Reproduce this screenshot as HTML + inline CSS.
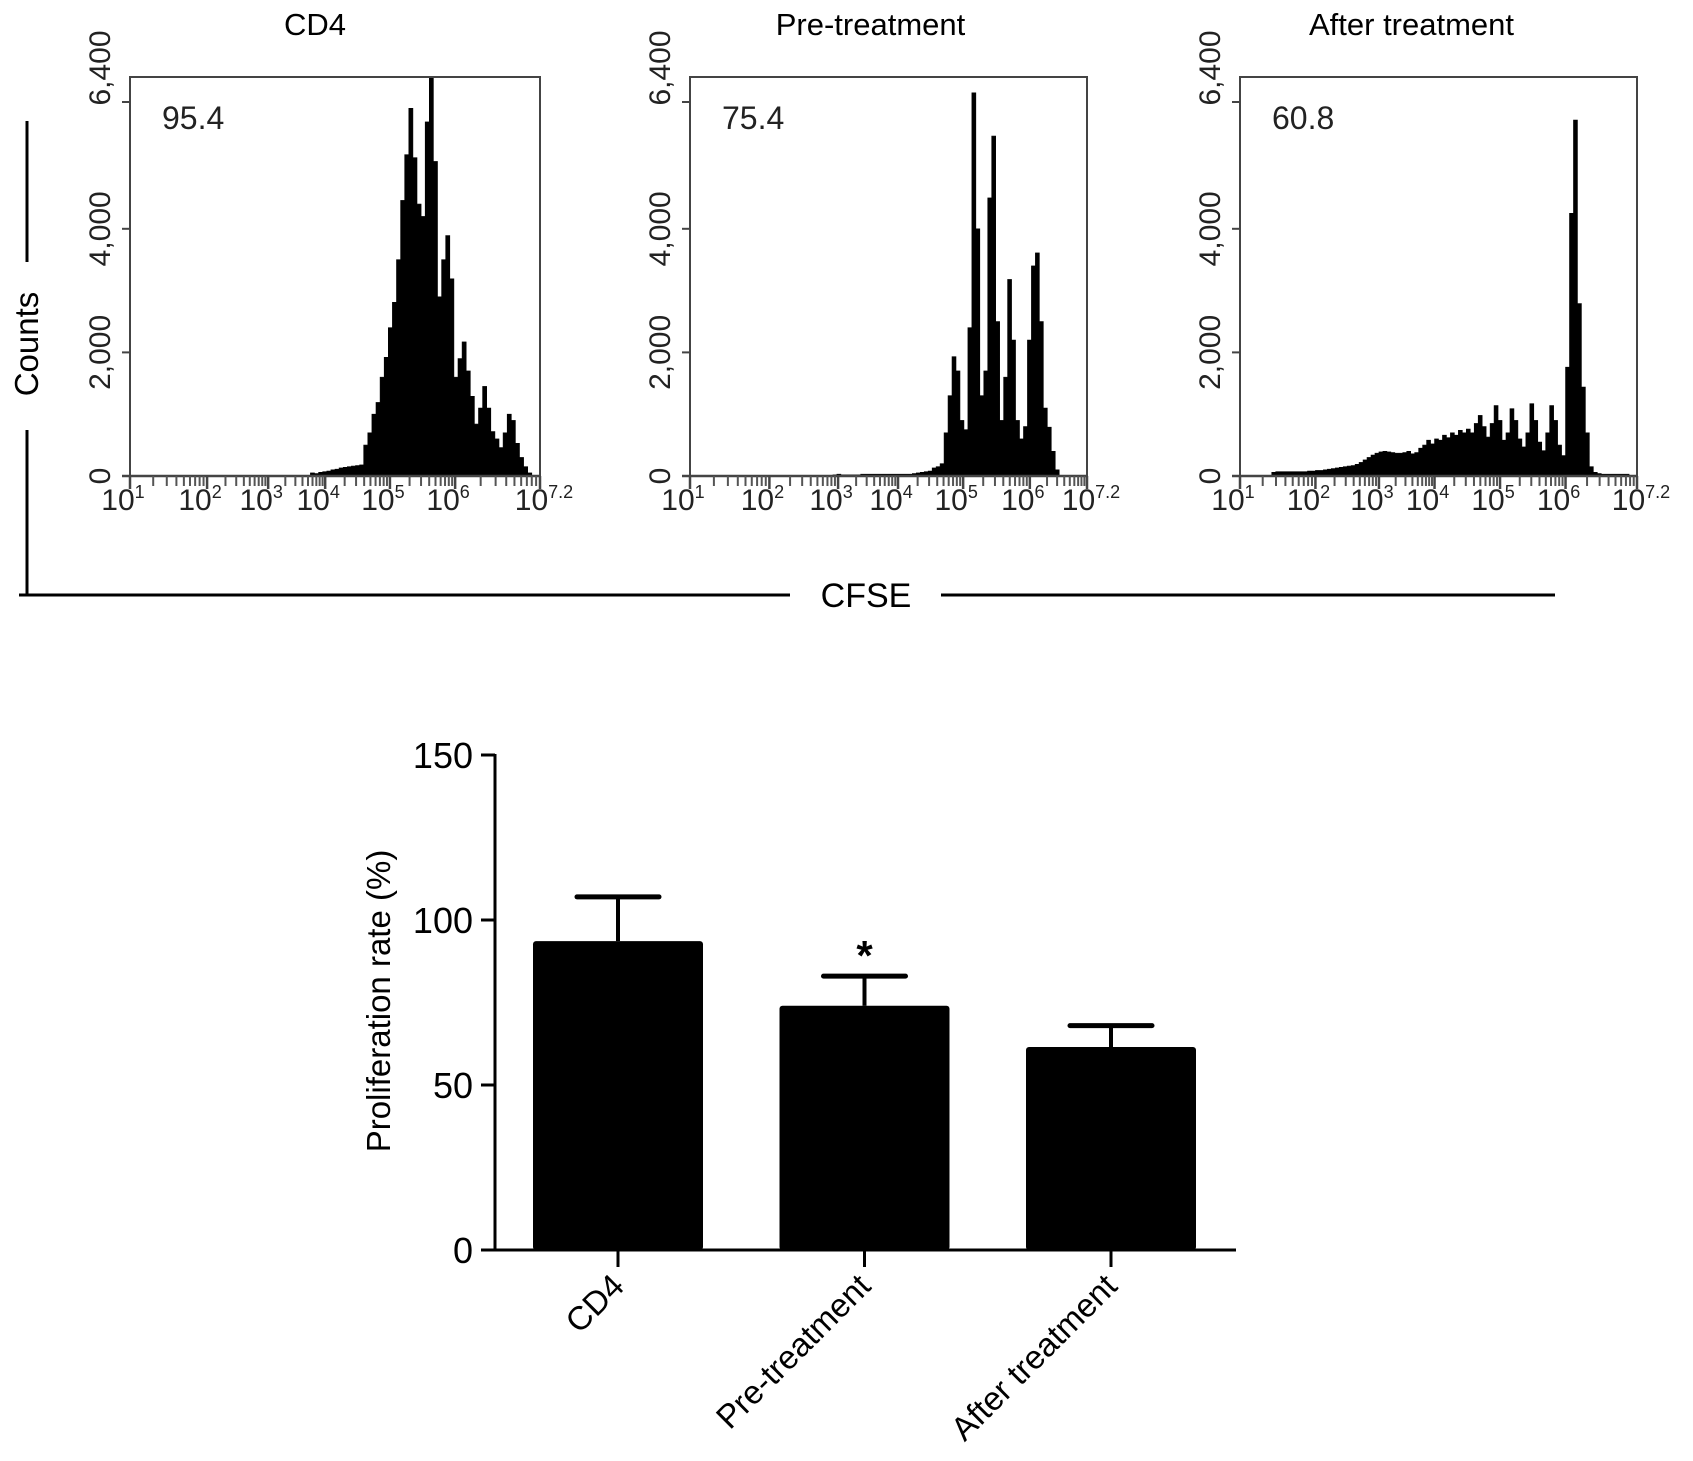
<!DOCTYPE html>
<html><head><meta charset="utf-8"><style>
html,body{margin:0;padding:0;background:#fff;overflow:hidden}
svg{display:block;font-family:"Liberation Sans",Arial,sans-serif}
</style></head><body>
<svg id="fig" width="1693" height="1461" viewBox="0 0 1693 1461" xmlns="http://www.w3.org/2000/svg">
<g id="hists"></g>
<g id="frame">
  <line x1="27" y1="121" x2="27" y2="262" stroke="#000" stroke-width="3"/>
  <line x1="27" y1="430" x2="27" y2="596" stroke="#000" stroke-width="3"/>
  <text x="0" y="0" transform="translate(38,344) rotate(-90)" text-anchor="middle" font-size="33">Counts</text>
  <line x1="19" y1="595" x2="790" y2="595" stroke="#000" stroke-width="3"/>
  <text x="866" y="607" text-anchor="middle" font-size="34">CFSE</text>
  <line x1="941" y1="595" x2="1555" y2="595" stroke="#000" stroke-width="3"/>
</g>
<g id="bars"></g>
</svg>
<script>
// ---------- Histogram data (counts per channel, 100 channels across each plot) ----------
const histTitles = ["CD4", "Pre-treatment", "After treatment"];
const histPercents = ["95.4", "75.4", "60.8"];
const yTickValues = [0, 2000, 4000, 6000];
const yTickLabels = ["0", "2,000", "4,000", "6,400"];
const decadeLabels = ["1", "2", "3", "4", "5", "6", "7.2"];
const countsCD4 = [
 0,0,0,0,0,0,0,0,0,0, 0,0,0,0,0,0,0,0,0,0,
 0,0,0,0,0,0,0,0,0,0, 0,0,0,0,0,0,0,0,0,0,
 0,0,0,0,50,40,60,70,80,100, 110,130,140,150,160,170,180,500,700,1000,
 1190,1600,1920,2400,2810,3500,4460,5200,5950,5150,
 4400,4200,5730,6600,5090,2900,3500,3890,3190,1600,
 1900,2170,1700,1290,840,1100,1450,1100,720,600,
 460,700,1000,900,530,300,150,50,0,0];
const countsPre = [
 0,0,0,0,0,0,0,0,0,0, 0,0,0,0,0,0,0,0,0,0,
 0,0,0,0,0,0,0,0,0,0, 0,0,0,0,0,0,20,30,20,20,
 20,20,20,30,30,30,30,30,30,30, 30,30,30,30,30,30,40,50,60,70,
 80,130,150,200,700,1300,1930,1700,900,750,
 2400,6200,4000,1300,1700,4500,5500,2500,900,1600,
 3180,2200,900,600,800,2200,3400,3610,2500,1100,
 790,400,100,0,0,0,0,0,0,0];
const countsAfter = [
 0,0,0,0,0,0,0,0,60,70, 70,70,70,70,70,70,70,80,80,90,
 90,100,110,120,130,140,150,160,170,190, 220,260,300,340,370,390,400,390,380,370,
 370,380,400,360,380,450,500,580,520,600, 580,660,620,700,660,740,700,760,700,850,
 980,800,630,850,1140,900,580,700,1090,900,
 600,470,700,1170,900,550,410,700,1140,900,
 500,330,1760,4250,5760,2790,1440,700,150,60,
 40,30,30,30,30,30,30,30,0,0];
const histSeries = [countsCD4, countsPre, countsAfter];

// ---------- Bar chart data ----------
const barCategories = ["CD4", "Pre-treatment", "After treatment"];
const barMeans = [93.6, 74, 61.5];
const barErrors = [13.4, 9, 6.5];
const barSignif = ["", "*", ""];
const barTicks = [0, 50, 100, 150];

const NS = "http://www.w3.org/2000/svg";
function mk(tag, attrs, parent, text) {
  const e = document.createElementNS(NS, tag);
  for (const k in attrs) e.setAttribute(k, attrs[k]);
  if (text !== undefined) e.textContent = text;
  parent.appendChild(e);
  return e;
}

// ---------- Histograms ----------
const panelLeft = [130, 690, 1240];
const panelWidth = [410, 397, 397];
const titleShift = [-20, -18, -27];
const panelTop = 77, panelZero = 476, pxPerCount = 0.0618;
const decadeFrac = [[0, .188, .337, .476, .634, .793, 1], [0, .20, .373, .524, .688, .856, 1], [0, .19, .35, .49, .655, .82, 1]];
const hg = document.getElementById("hists");
function yH(v) { return panelZero - v * pxPerCount; }

histSeries.forEach((data, p) => {
  const L = panelLeft[p], W = panelWidth[p], N = data.length;
  const g = mk("g", {}, hg);
  
  
  const xC = i => L + i * W / N;
  let d = "M" + xC(0) + " " + panelZero;
  data.forEach((v, i) => {
    const y = Math.max(panelTop, yH(v));
    d += " L" + xC(i) + " " + y + " L" + xC(i + 1) + " " + y;
  });
  d += " L" + xC(N) + " " + panelZero + " Z";
  const path = mk("path", { d: d, fill: "#000", stroke: "#000", "stroke-width": "0.6" }, g);
  
  
  const box = mk("path", { d: `M${L} ${panelZero} L${L} ${panelTop} L${L + W} ${panelTop} L${L + W} ${panelZero}`, fill: "none", stroke: "#444", "stroke-width": "2" }, g);
  
  
  const xa = mk("line", { x1: L - 8, y1: panelZero, x2: L + W, y2: panelZero, stroke: "#444", "stroke-width": "2.5" }, g);
  
  
  yTickValues.forEach((v, k) => {
    const y = k === 3 ? 102 : yH(v);
    const t = mk("line", { x1: L - 8, y1: y, x2: L, y2: y, stroke: "#444", "stroke-width": "2" }, g);
    
    
    const ly = k === 3 ? 68 : y;
    const lb = mk("text", { transform: `translate(${L - 20},${ly}) rotate(-90)`, "text-anchor": "middle", "font-size": "30", fill: "#222" }, g, yTickLabels[k]);
    
    
  });
  const fr = decadeFrac[p];
  for (let k = 0; k < fr.length; k++) {
    const x = L + fr[k] * W;
    const t = mk("line", { x1: x, y1: panelZero, x2: x, y2: panelZero + 13, stroke: "#444", "stroke-width": "2.5" }, g);
    
    
    if (k < fr.length - 1) {
      for (let m = 2; m <= 9; m++) {
        const xm = L + (fr[k] + (fr[k + 1] - fr[k]) * Math.log10(m)) * W;
        const tm = mk("line", { x1: xm, y1: panelZero, x2: xm, y2: panelZero + 10, stroke: "#555", "stroke-width": "2" }, g);
        
        
      }
    }
    const lb = mk("text", { x: x + (k === fr.length - 1 ? 4 : -7), y: 510, "text-anchor": "middle", "font-size": "30", fill: "#222" }, g);
    
    
    mk("tspan", {}, lb, "10");
    mk("tspan", { dy: "-12", "font-size": "18" }, lb, decadeLabels[k]);
  }
  const ti = mk("text", { x: L + W / 2 + titleShift[p], y: 35, "text-anchor": "middle", "font-size": "31" }, g, histTitles[p]);
  
  
  const pc = mk("text", { x: L + 32, y: 129, "font-size": "32", fill: "#222" }, g, histPercents[p]);
  
  
});

// ---------- Bar chart ----------
const bg = document.getElementById("bars");
const axX = 495, axR = 1236, zeroY = 1250, pxPerUnit = 3.3;
const barW = 170, firstCenter = 618, step = 246.5;
const yB = v => zeroY - v * pxPerUnit;
const xB = i => firstCenter + i * step;

barCategories.forEach((c, i) => {
  const cx = xB(i);
  const eb = mk("line", { x1: cx, y1: yB(barMeans[i]), x2: cx, y2: yB(barMeans[i] + barErrors[i]), stroke: "#000", "stroke-width": "4" }, bg);
  
  
  const cap = mk("line", { x1: cx - 41, y1: yB(barMeans[i] + barErrors[i]), x2: cx + 41, y2: yB(barMeans[i] + barErrors[i]), stroke: "#000", "stroke-width": "5", "stroke-linecap": "round" }, bg);
  
  
  const r = mk("rect", { x: cx - barW / 2, y: yB(barMeans[i]), width: barW, height: zeroY - yB(barMeans[i]), fill: "#000", rx: "3" }, bg);
  
  
  const tk = mk("line", { x1: cx, y1: zeroY, x2: cx, y2: zeroY + 17, stroke: "#000", "stroke-width": "3" }, bg);
  
  
  const lb = mk("text", { transform: `translate(${cx + 8},${zeroY + 38}) rotate(-45)`, "text-anchor": "end", "font-size": "33" }, bg, c);
  
  
  if (barSignif[i]) {
    const st = mk("text", { x: cx, y: yB(barMeans[i] + barErrors[i]) - 6, "text-anchor": "middle", "font-size": "42", "font-weight": "bold" }, bg, barSignif[i]);
    
    
  }
});
const yAx = mk("line", { x1: axX, y1: yB(150) - 1, x2: axX, y2: zeroY + 1.5, stroke: "#000", "stroke-width": "3" }, bg);


const xAx = mk("line", { x1: axX - 1.5, y1: zeroY, x2: axR, y2: zeroY, stroke: "#000", "stroke-width": "3" }, bg);


barTicks.forEach(v => {
  const t = mk("line", { x1: axX - 14, y1: yB(v), x2: axX, y2: yB(v), stroke: "#000", "stroke-width": "3" }, bg);
  
  
  const l = mk("text", { x: axX - 22, y: yB(v) + 13, "text-anchor": "end", "font-size": "36" }, bg, String(v));
  
  
});
const yt = mk("text", { transform: "translate(390,1001) rotate(-90)", "text-anchor": "middle", "font-size": "33" }, bg, "Proliferation rate (%)");


</script>
</body></html>
